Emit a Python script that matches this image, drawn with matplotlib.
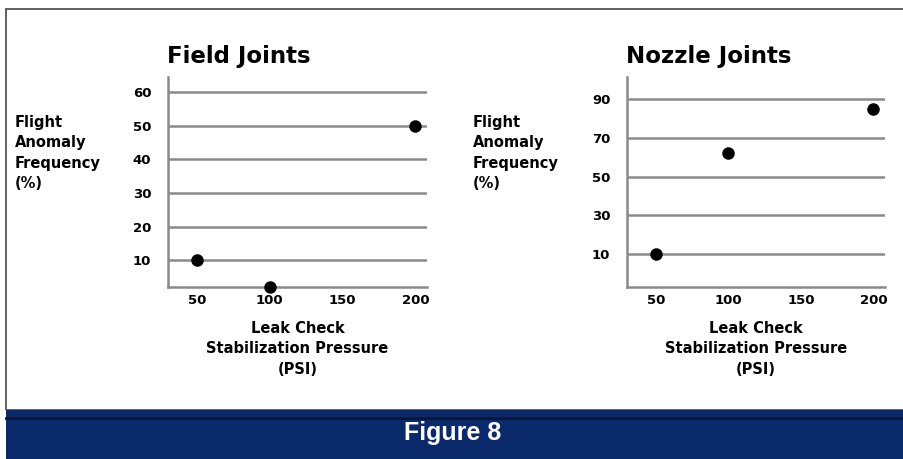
import matplotlib
matplotlib.use("Agg")
import matplotlib.pyplot as plt
from matplotlib.patches import Rectangle

# data
pressure = [50, 100, 200]
field_freq = [10, 2, 50]
nozzle_freq = [10, 62, 85]

field_yticks = [10, 20, 30, 40, 50, 60]
nozzle_yticks = [10, 30, 50, 70, 90]
x_ticks = [50, 100, 150, 200]

W, H = 904, 459
fig = plt.figure(figsize=(W / 100, H / 100), dpi=100)
fig.patch.set_facecolor("white")

def px(x, y):
    return x / W, 1 - y / H

tick_font = dict(family="DejaVu Sans", weight="bold", size=9.5)
lab_font = dict(family="DejaVu Sans", weight="bold", size=10.5)
grid_col = "#8a8a8a"

def make_panel(x0, x1, title, yvals, yticks, ylim, ylabel_x):
    left, bottom = px(x0, 287)
    right, top = px(x1, 77)
    ax = fig.add_axes([left, bottom, right - left, top - bottom])
    ax.set_xlim(30, 208)
    ax.set_ylim(*ylim)
    for s in ["top", "right"]:
        ax.spines[s].set_visible(False)
    for s in ["left", "bottom"]:
        ax.spines[s].set_color(grid_col)
        ax.spines[s].set_linewidth(1.8)
    ax.set_yticks(yticks)
    ax.set_xticks(x_ticks)
    ax.set_yticklabels([str(t) for t in yticks], fontdict=tick_font)
    ax.set_xticklabels([str(t) for t in x_ticks], fontdict=tick_font)
    ax.tick_params(axis="y", length=0, pad=12)
    ax.tick_params(axis="x", length=0, pad=5)
    for t in yticks:
        ax.axhline(t, color=grid_col, lw=1.8, zorder=1)
    ax.plot(pressure, yvals, "o", color="black", markersize=8, zorder=3, clip_on=False)
    ax.set_xlabel("Leak Check\nStabilization Pressure\n(PSI)", fontdict=lab_font,
                  labelpad=10, linespacing=1.45)
    fx, fy = px(x0 - 1, 57)
    fig.text(fx, fy, title, ha="left", va="center", family="DejaVu Sans",
             weight="bold", size=16.5)
    lx, ly = px(ylabel_x, 115)
    fig.text(lx, ly, "Flight\nAnomaly\nFrequency\n(%)", ha="left", va="top",
             fontdict=lab_font, linespacing=1.45)
    return ax

make_panel(168, 427, "Field Joints", field_freq, field_yticks, (2, 64.5), 15)
make_panel(627, 885, "Nozzle Joints", nozzle_freq, nozzle_yticks, (-7, 101.4), 473)

# outer frame
bx, by = px(6, 410)
fig.add_artist(Rectangle((bx, by), 1.2, 1 - 9 / H - by, transform=fig.transFigure,
                         fill=False, edgecolor="#555555", lw=1.3))
# blue caption band
bx, by = px(6, 459)
fig.add_artist(Rectangle((bx, by), 1, 49 / H, transform=fig.transFigure,
                         facecolor="#0b2a6b", edgecolor="none"))
lx0, ly0 = px(6, 418)
fig.add_artist(plt.Line2D([lx0, 1], [ly0, ly0], transform=fig.transFigure,
                          color="#061638", lw=2))
tx, ty = px(453, 440)
fig.text(tx, ty, "Figure 8", ha="center", va="baseline", color="white",
         family="Liberation Sans", weight="bold", size=18)

fig.savefig("out.png", dpi=100)
